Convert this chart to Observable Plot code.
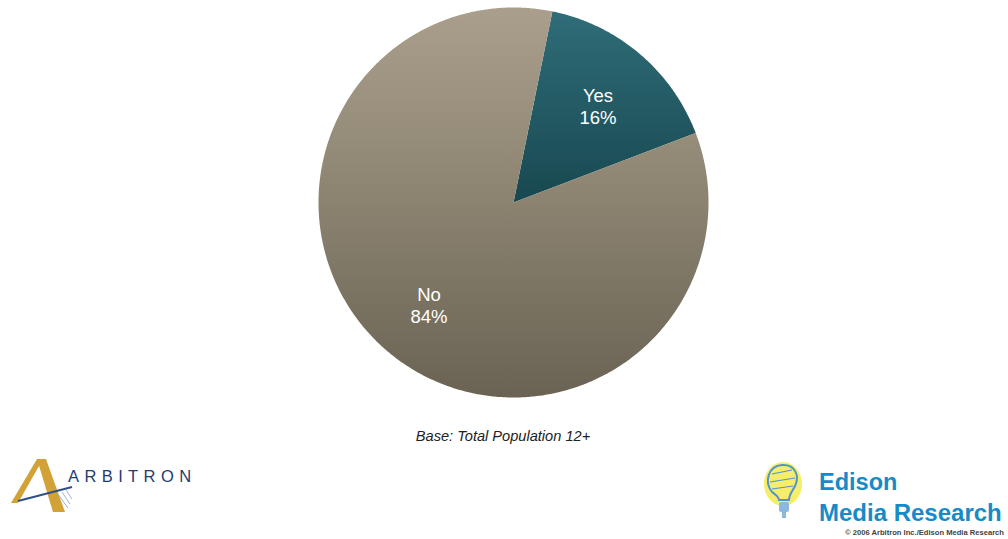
<!DOCTYPE html>
<html>
<head>
<meta charset="utf-8">
<script src="https://cdn.jsdelivr.net/npm/d3@7"></script>
<script src="https://cdn.jsdelivr.net/npm/@observablehq/plot@0.6"></script>
<style>
  html, body { margin: 0; padding: 0; background: #fff; }
  #wrap { position: relative; width: 1008px; height: 539px; overflow: hidden; font-family: "Liberation Sans", Arial, sans-serif; }
  #chart { position: absolute; left: 0; top: 0; }
  #caption { position: absolute; top: 428px; left: 0; width: 1006px; text-align: center; font-style: italic; font-size: 14.6px; color: #222; }
  .abs { position: absolute; }
</style>
</head>
<body>
<div id="wrap">
  <div id="chart"></div>
  <div id="caption">Base: Total Population 12+</div>
  <svg class="abs" style="left:0;top:0" width="1008" height="539">
    <!-- Arbitron logo -->
    <polygon points="11,503 37,459 43,459 18,503" fill="#d2a237"/>
    <polygon points="37,459 46,459 65,512 53,512" fill="#d2a237"/>
    <line x1="18" y1="501" x2="72" y2="487" stroke="#2f4f8a" stroke-width="2"/>
    <g stroke="#9fb5d6" stroke-width="1">
      <line x1="58" y1="494" x2="68" y2="508"/>
      <line x1="62" y1="492" x2="70" y2="504"/>
      <line x1="66" y1="490" x2="72" y2="499"/>
    </g>
    <text x="68" y="482" font-family="Liberation Sans, Arial, sans-serif" font-size="16.5" letter-spacing="5.4" fill="#1f3d6e">ARBITRON</text>
    <!-- Edison logo -->
    <ellipse cx="783" cy="484" rx="19" ry="22" fill="#f4ea50" opacity="0.85"/>
    <path d="M772,492 C764,482 768,466 782,465 C795,464 800,476 795,486 C792,492 789,494 789,500 L779,500 C779,497 776,495 772,492 Z" fill="none" stroke="#4f95cf" stroke-width="2"/>
    <path d="M772,474 L792,470 M770,482 L795,478 M772,489 L793,486" stroke="#4f95cf" stroke-width="1.2" fill="none"/>
    <rect x="779" y="502" width="10" height="10" rx="2" fill="#8ab8e0"/>
    <rect x="782" y="512" width="4" height="6" fill="#8ab8e0"/>
    <text x="819" y="490" font-family="Liberation Sans, Arial, sans-serif" font-weight="bold" font-size="23.5" fill="#178ac8">Edison</text>
    <text x="819" y="521" font-family="Liberation Sans, Arial, sans-serif" font-weight="bold" font-size="24" fill="#178ac8">Media Research</text>
    <text x="1004" y="535" text-anchor="end" font-family="Liberation Sans, Arial, sans-serif" font-weight="bold" font-size="7.6" fill="#444">© 2006 Arbitron Inc./Edison Media Research</text>
  </svg>
</div>
<script>
const labels = ["Yes", "No"];
const values = [16, 84];
const startDegrees = 11.5;

const arcs = d3.pie().sort(null)
  .startAngle(startDegrees * Math.PI / 180)
  .endAngle(startDegrees * Math.PI / 180 + 2 * Math.PI)(values);

const slicePoints = [];
arcs.forEach((a, i) => {
  slicePoints.push({label: labels[i], x: 0, y: 0});
  const n = Math.ceil((a.endAngle - a.startAngle) / (Math.PI / 360));
  for (let k = 0; k <= n; k++) {
    const t = a.startAngle + (a.endAngle - a.startAngle) * k / n;
    slicePoints.push({label: labels[i], x: Math.sin(t), y: Math.cos(t)});
  }
});

const labelPoints = arcs.map((a, i) => {
  const m = (a.startAngle + a.endAngle) / 2;
  return {text: `${labels[i]}\n${values[i]}%`, x: 0.67 * Math.sin(m), y: 0.67 * Math.cos(m)};
});

const chart = Plot.plot({
  width: 1008,
  height: 420,
  margin: 0,
  style: {background: "transparent"},
  x: {domain: [-1, 1], range: [318, 708], axis: null},
  y: {domain: [-1, 1], range: [397, 7], axis: null},
  color: {type: "ordinal", domain: labels, range: ["url(#gradYes)", "url(#gradNo)"]},
  marks: [
    Plot.line(slicePoints, {x: "x", y: "y", z: "label", fill: "label", stroke: "none", curve: "linear-closed"}),
    Plot.text(labelPoints, {x: "x", y: "y", text: "text", fill: "white", fontSize: 18.5, lineHeight: 1.2, dy: 3,
      fontFamily: "Liberation Sans, Arial, sans-serif", lineAnchor: "middle"})
  ]
});

const defs = d3.select(chart).insert("defs", ":first-child");
const g1 = defs.append("linearGradient").attr("id", "gradYes").attr("x1", 0).attr("y1", 0).attr("x2", 0).attr("y2", 1);
g1.append("stop").attr("offset", "0%").attr("stop-color", "#2f6d78");
g1.append("stop").attr("offset", "100%").attr("stop-color", "#184850");
const g2 = defs.append("linearGradient").attr("id", "gradNo").attr("x1", 0).attr("y1", 0).attr("x2", 0).attr("y2", 1);
g2.append("stop").attr("offset", "0%").attr("stop-color", "#aa9f8c");
g2.append("stop").attr("offset", "50%").attr("stop-color", "#8b8370");
g2.append("stop").attr("offset", "100%").attr("stop-color", "#6a6253");

document.getElementById("chart").appendChild(chart);
</script>
</body>
</html>
